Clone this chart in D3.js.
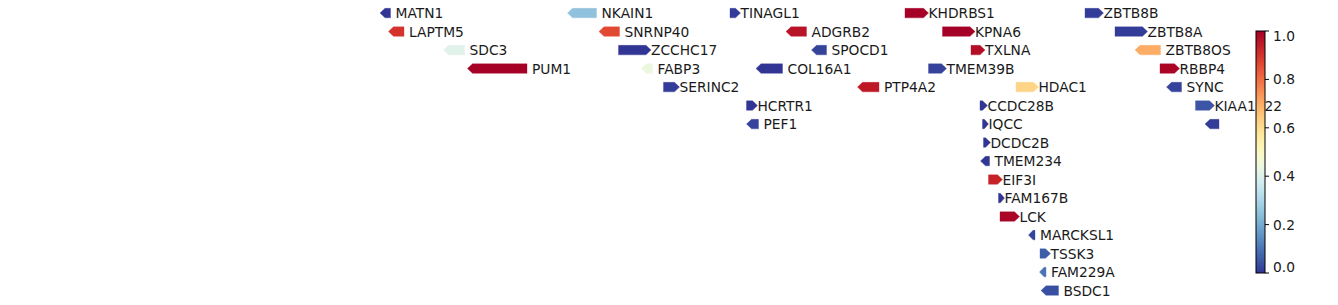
<!DOCTYPE html>
<html>
<head>
<meta charset="utf-8">
<script src="https://cdn.jsdelivr.net/npm/d3@7"></script>
<style>
  body { margin: 0; background: #fff; }
  text { font-family: "DejaVu Sans", sans-serif; font-size: 13.8px; fill: #1a1a1a; }
</style>
</head>
<body>
<div class="js-vis"></div>
<script>
// gene track data (positions in kb)
const genes   = ["MATN1", "LAPTM5", "SDC3", "PUM1", "NKAIN1", "SNRNP40", "ZCCHC17", "FABP3", "SERINC2",
                 "TINAGL1", "HCRTR1", "PEF1", "COL16A1", "ADGRB2", "SPOCD1", "PTP4A2", "KHDRBS1", "TMEM39B",
                 "KPNA6", "TXLNA", "CCDC28B", "TMEM234", "IQCC", "DCDC2B", "EIF3I", "FAM167B", "LCK",
                 "HDAC1", "MARCKSL1", "FAM229A", "TSSK3", "BSDC1", "ZBTB8B", "ZBTB8A", "ZBTB8OS", "RBBP4",
                 "SYNC", "KIAA1522", ""]
const starts  = [30700, 30717, 30827, 30875, 31075, 31138, 31177, 31223, 31267,
                 31400, 31433, 31433, 31452, 31512, 31563, 31655, 31750, 31797,
                 31825, 31882, 31900, 31901, 31905, 31907, 31917, 31937, 31940,
                 31972, 31997, 32019, 32020, 32022, 32110, 32170, 32210, 32260,
                 32273, 32331, 32350]
const ends    = [30721, 30748, 30869, 30994, 31133, 31179, 31242, 31245, 31299,
                 31421, 31455, 31457, 31505, 31553, 31593, 31698, 31797, 31833,
                 31890, 31910, 31915, 31919, 31917, 31921, 31945, 31949, 31979,
                 32017, 32010, 32032, 32041, 32057, 32147, 32235, 32261, 32299,
                 32303, 32369, 32378]
const strands = [-1, -1, -1, -1, -1, -1, 1, -1, 1,
                 1, 1, -1, -1, -1, -1, -1, 1, 1,
                 1, 1, 1, -1, 1, 1, 1, 1, 1,
                 1, -1, -1, 1, -1, 1, 1, -1, 1,
                 -1, 1, -1]
const rows    = [0, 1, 2, 3, 0, 1, 2, 3, 4,
                 0, 5, 6, 3, 1, 2, 4, 0, 3,
                 1, 2, 5, 8, 6, 7, 9, 10, 11,
                 4, 12, 14, 13, 15, 0, 1, 2, 3,
                 4, 5, 6]
const values  = [0.0, 0.9, 0.41, 1.0, 0.25, 0.86, 0.0, 0.44, 0.01,
                 0.01, 0.0, 0.02, 0.0, 0.96, 0.02, 0.95, 1.0, 0.02,
                 1.0, 0.97, 0.0, 0.0, 0.0, 0.0, 0.93, 0.0, 0.99,
                 0.62, 0.02, 0.1, 0.06, 0.04, 0.01, 0.01, 0.7, 0.99,
                 0.02, 0.05, 0.01]
const cbTicks = [0.0, 0.2, 0.4, 0.6, 0.8, 1.0]

const W = 1338, H = 305

const svg = d3.select(".js-vis").append("svg")
  .attr("width", W)
  .attr("height", H)

const x = d3.scaleLinear()
  .domain([30700, 32500])
  .range([380, 1280])

const y = d3.scaleLinear()
  .domain([0, 15])
  .range([13.1, 290.6])

const color = v => d3.interpolateRdYlBu(1 - v)

const boxH = 9.5, headLen = 5

function arrowPath(i) {
  const x0 = x(starts[i]), x1 = x(ends[i]), cy = y(rows[i])
  const top = cy - boxH / 2, bot = cy + boxH / 2
  const hl = Math.min(headLen, (x1 - x0) * 0.7)
  if (strands[i] > 0) {
    return `M${x0},${top}L${x1 - hl},${top}L${x1},${cy}L${x1 - hl},${bot}L${x0},${bot}Z`
  }
  return `M${x1},${top}L${x0 + hl},${top}L${x0},${cy}L${x0 + hl},${bot}L${x1},${bot}Z`
}

const idx = d3.range(genes.length)

const track = svg.append("g").attr("class", "track")

track.selectAll(".gene")
  .data(idx)
.enter().append("path")
  .attr("class", "gene")
  .attr("d", arrowPath)
  .attr("fill", i => color(values[i]))
  .attr("stroke", i => color(values[i]))
  .attr("stroke-opacity", 0.35)
  .attr("stroke-width", 1)

track.selectAll(".label")
  .data(idx)
.enter().append("text")
  .attr("class", "label")
  .attr("x", i => x(ends[i]) + (strands[i] < 0 ? 5 : 0))
  .attr("y", i => y(rows[i]))
  .attr("dy", "0.36em")
  .text(i => genes[i])

// colorbar
const cb = { x: 1256, w: 9, top: 31, bottom: 273 }

const cy = d3.scaleLinear()
  .domain([0, 1])
  .range([cb.bottom, cb.top])

const grad = svg.append("defs").append("linearGradient")
  .attr("id", "cbgrad")
  .attr("x1", 0).attr("y1", 1).attr("x2", 0).attr("y2", 0)

grad.selectAll("stop")
  .data(d3.range(0, 1.0001, 0.02))
.enter().append("stop")
  .attr("offset", d => d)
  .attr("stop-color", d => color(d))

const cbg = svg.append("g").attr("class", "colorbar")

cbg.append("rect")
  .attr("x", cb.x)
  .attr("y", cb.top)
  .attr("width", cb.w)
  .attr("height", cb.bottom - cb.top)
  .attr("fill", "url(#cbgrad)")
  .attr("stroke", "#000")
  .attr("stroke-width", 1)

const tk = cbg.selectAll(".tick")
  .data(cbTicks)
.enter().append("g")
  .attr("class", "tick")

tk.append("line")
  .attr("x1", cb.x + cb.w)
  .attr("x2", cb.x + cb.w + 4)
  .attr("y1", d => cy(d))
  .attr("y2", d => cy(d))
  .attr("stroke", "#000")
  .attr("stroke-width", 1)

tk.append("text")
  .attr("x", cb.x + cb.w + 8)
  .attr("y", d => Math.max(cb.top + 5, Math.min(cb.bottom - 6, cy(d))))
  .attr("dy", "0.36em")
  .text(d => d.toFixed(1))
</script>
</body>
</html>
